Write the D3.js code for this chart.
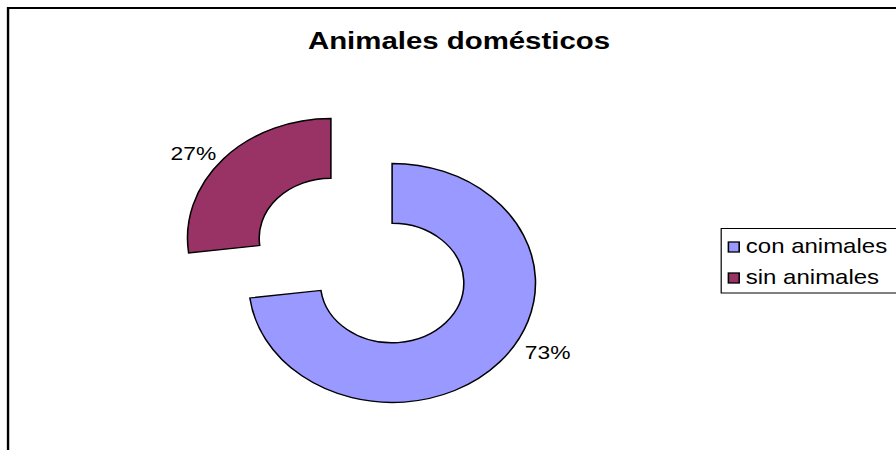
<!DOCTYPE html>
<html><head><meta charset="utf-8">
<script src="https://cdn.jsdelivr.net/npm/d3@7"></script>
<style>body{margin:0;background:#fff;overflow:hidden}</style></head>
<body>
<svg id="c" width="896" height="450"></svg>
<script>
const title = "Animales domésticos";
const categories = ["con animales", "sin animales"];
const values = [73, 27];
const valueLabels = ["73%", "27%"];
const colors = ["#9999FF", "#993366"];

const sx = 1.2;               // horizontal stretch of the original picture
const cx = 301.25, cy = 260.5; // pie centre (in unstretched space)
const R = 119.5, r = 59.75, explode = 34;
const font = "Arial, 'Liberation Sans', Helvetica, sans-serif";

const svg = d3.select("#c");
svg.append("rect").attr("width", 896).attr("height", 450).attr("fill", "#fff");
const g = svg.append("g").attr("transform", `scale(${sx},1)`);

// chart frame
g.append("rect").attr("x", 6.7).attr("y", 8).attr("width", 1000).attr("height", 1000)
  .attr("fill", "none").attr("stroke", "#000").attr("stroke-width", 2);

// title
g.append("text").attr("x", 382.5).attr("y", 49).attr("text-anchor", "middle")
  .attr("font-family", font).attr("font-weight", "bold").attr("font-size", 24.5)
  .text(title);

const pie = d3.pie().sort(null).value(d => d);
const arcs = pie(values);
const arc = d3.arc().innerRadius(r).outerRadius(R);

const pg = g.append("g").attr("transform", `translate(${cx},${cy})`);
arcs.forEach((a, i) => {
  const mid = (a.startAngle + a.endAngle) / 2;
  const ox = explode * Math.sin(mid), oy = -explode * Math.cos(mid);
  pg.append("path")
    .attr("d", arc(a))
    .attr("transform", `translate(${ox},${oy})`)
    .attr("fill", colors[i]).attr("stroke", "#000").attr("stroke-width", 1.3)
    .attr("stroke-linejoin", "miter");
  // label: outer point along bisector, pushed outward
  const px = ox + R * Math.sin(mid), py = oy - R * Math.cos(mid);
  const side = Math.sin(mid) >= 0 ? 1 : -1;
  const nudgeX = side > 0 ? 40 : -25;
  const nudgeY = side > 0 ? -10 : -5.5;
  pg.append("text")
    .attr("x", px + nudgeX).attr("y", py + nudgeY + 19 * 0.36)
    .attr("text-anchor", "middle")
    .attr("font-family", font).attr("font-size", 19)
    .text(valueLabels[i]);
});

// legend
const lg = g.append("g").attr("transform", "translate(601,228.5)");
lg.append("rect").attr("width", 300).attr("height", 64.5)
  .attr("fill", "#fff").attr("stroke", "#000").attr("stroke-width", 1);
categories.forEach((c, i) => {
  const row = lg.append("g").attr("transform", `translate(0,${13.5 + i * 31})`);
  row.append("rect").attr("x", 6).attr("y", 0).attr("width", 9).attr("height", 10)
    .attr("fill", colors[i]).attr("stroke", "#000").attr("stroke-width", 1.3);
  row.append("text").attr("x", 20.5).attr("y", 11)
    .attr("font-family", font).attr("font-size", 20)
    .text(c);
});
</script>
</body></html>
